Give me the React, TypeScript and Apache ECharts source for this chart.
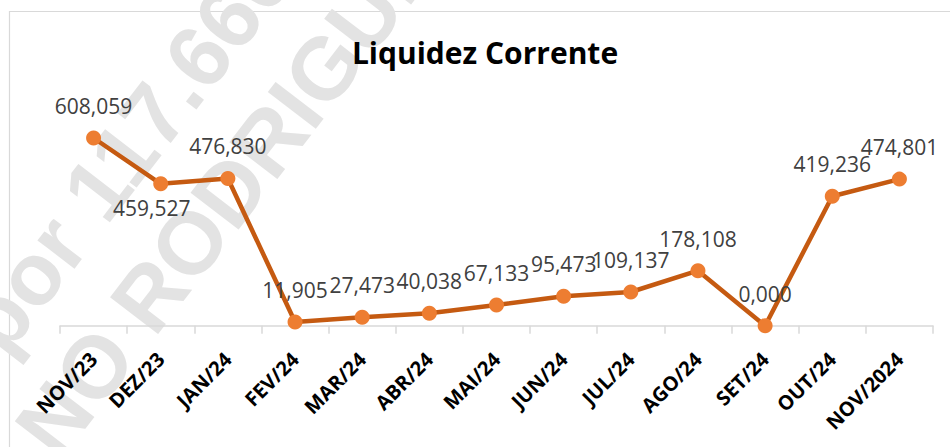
import React, { useEffect, useRef } from "react";
import * as echarts from "echarts";

const titleText = "Liquidez Corrente";
const categories = [
  "NOV/23", "DEZ/23", "JAN/24", "FEV/24", "MAR/24", "ABR/24", "MAI/24",
  "JUN/24", "JUL/24", "AGO/24", "SET/24", "OUT/24", "NOV/2024",
];
const values = [
  608.059, 459.527, 476.83, 11.905, 27.473, 40.038, 67.133,
  95.473, 109.137, 178.108, 0.0, 419.236, 474.801,
];
const labelsBelow = ["DEZ/23"];
const watermarkLines = ["por 117.660", "NO RODRIGUES"];

const fmt = (v: number) => v.toFixed(3).replace(".", ",");

export default function App() {
  const ref = useRef<HTMLDivElement>(null);
  useEffect(() => {
    if (!ref.current) return;
    const chart = echarts.init(ref.current, null, { renderer: "svg" });
    const theta = (52.5 * Math.PI) / 180;
    const wmStyle = {
      fontFamily: "Liberation Sans",
      fontWeight: "bold",
      fontSize: 88,
      fill: "#e3e3e3",
      align: "center",
      verticalAlign: "middle",
      textAlign: "center",
      textVerticalAlign: "middle",
    };
    const data = values.map((v, i) => {
      if (labelsBelow.includes(categories[i])) {
        return {
          value: v,
          label: { position: "bottom", distance: 6, offset: [-9, 0] },
        };
      }
      return { value: v };
    });
    chart.setOption({
      animation: false,
      backgroundColor: "#ffffff",
      title: {
        text: titleText,
        left: 480,
        top: 32,
        textAlign: "center",
        textStyle: {
          fontFamily: "Open Sans",
          fontWeight: "bold",
          fontSize: 30,
          color: "#000000",
        },
      },
      graphic: [
        {
          type: "rect",
          z: -20,
          silent: true,
          shape: { x: 9.5, y: 11.5, width: 980, height: 480 },
          style: { fill: "none", stroke: "#d9d9d9", lineWidth: 1.2 },
        },
        {
          type: "text",
          z: -10,
          silent: true,
          x: 127,
          y: 150,
          rotation: theta,
          style: { ...wmStyle, text: watermarkLines[0] },
        },
        {
          type: "text",
          z: -10,
          silent: true,
          x: 245,
          y: 171,
          rotation: theta,
          style: { ...wmStyle, text: watermarkLines[1] },
        },
      ],
      grid: { left: 60, right: 17, top: 109.6, bottom: 121.3, containLabel: false },
      xAxis: {
        type: "category",
        data: categories,
        boundaryGap: true,
        axisLine: { show: true, lineStyle: { color: "#d9d9d9", width: 1.5 } },
        axisTick: { show: true, length: 8, lineStyle: { color: "#d9d9d9", width: 1.5 } },
        axisLabel: {
          rotate: 45,
          margin: 30,
          interval: 0,
          fontFamily: "Open Sans",
          fontWeight: "bold",
          fontSize: 20,
          color: "#000000",
        },
        splitLine: { show: false },
      },
      yAxis: {
        type: "value",
        min: 0,
        max: 700,
        show: false,
        splitLine: { show: false },
      },
      series: [
        {
          type: "line",
          data,
          symbol: "circle",
          symbolSize: 15,
          lineStyle: { color: "#C55A11", width: 4.5 },
          itemStyle: { color: "#ED7D31" },
          label: {
            show: true,
            position: "top",
            distance: 14,
            formatter: (p: any) => fmt(p.value),
            fontFamily: "Open Sans",
            fontSize: 21,
            color: "#404040",
          },
        },
      ],
    });
    return () => chart.dispose();
  }, []);
  return (
    <div
      ref={ref}
      style={{ position: "fixed", left: 0, top: 0, width: 950, height: 447 }}
    />
  );
}
